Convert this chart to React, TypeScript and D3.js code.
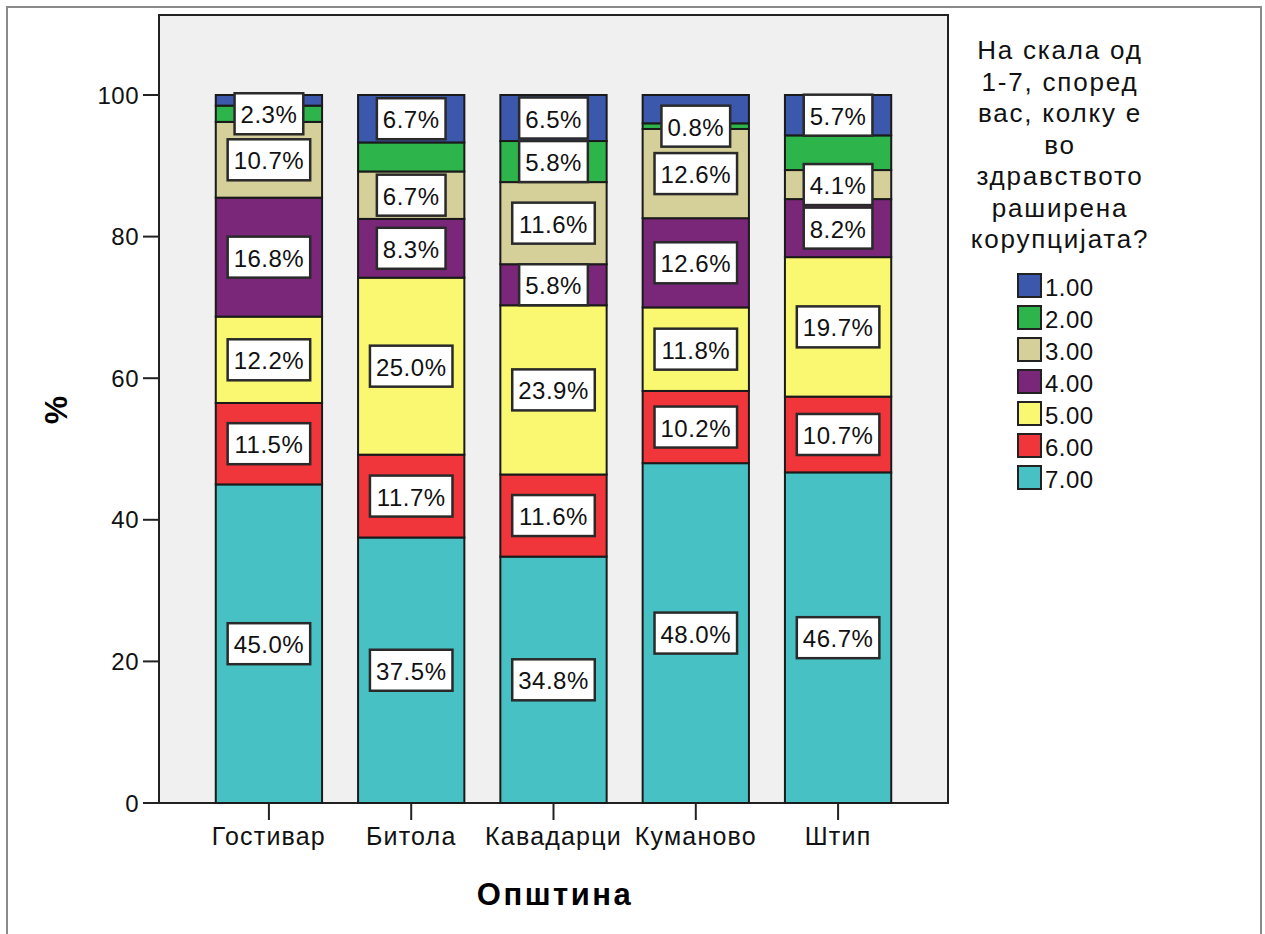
import React from "react";
import * as d3 from "d3";

const municipalities = ["Гостивар", "Битола", "Кавадарци", "Куманово", "Штип"];
const categories = ["1.00", "2.00", "3.00", "4.00", "5.00", "6.00", "7.00"];
const values1 = [1.5, 6.7, 6.5, 4.0, 5.7];
const values2 = [2.3, 4.1, 5.8, 0.8, 4.9];
const values3 = [10.7, 6.7, 11.6, 12.6, 4.1];
const values4 = [16.8, 8.3, 5.8, 12.6, 8.2];
const values5 = [12.2, 25.0, 23.9, 11.8, 19.7];
const values6 = [11.5, 11.7, 11.6, 10.2, 10.7];
const values7 = [45.0, 37.5, 34.8, 48.0, 46.7];
const seriesValues = [values1, values2, values3, values4, values5, values6, values7];
// whether the value label is drawn for each bar (SPSS hid some overlapping labels)
const shown1 = [false, true, true, false, true];
const shown2 = [true, false, true, true, false];
const shownAll = [true, true, true, true, true];
const labelShown = [shown1, shown2, shownAll, shownAll, shownAll, shownAll, shownAll];
const colors = ["#3C58AC", "#2DB44B", "#D5CF9A", "#7A2779", "#FAF870", "#F0353B", "#48C1C5"];
const yTicks = [0, 20, 40, 60, 80, 100];
const legendTitle = ["На скала од", "1-7, според", "вас, колку е", "во", "здравството", "раширена", "корупцијата?"];

const FONT = "'Liberation Sans', Arial, sans-serif";

function textWidth(s: string, size: number) {
  // approximate Arial widths
  let w = 0;
  for (const ch of s) {
    if (ch === "%") w += 0.889;
    else if (ch === ".") w += 0.278;
    else w += 0.556;
  }
  return w * size;
}

export default function App() {
  const W = 1265, H = 934;
  const left = 159, right = 948, top = 15, bottom = 803;
  const x = d3.scaleBand<string>().domain(municipalities).range([left, right]).paddingInner(0.253).paddingOuter(0.399);
  const y = d3.scaleLinear().domain([0, 111.3]).range([bottom, top]);

  const rows = municipalities.map((m, i) => {
    const r: any = { m };
    categories.forEach((c, k) => (r[c] = seriesValues[k][i]));
    return r;
  });
  const stackKeys = [...categories].reverse();
  const stacked = d3.stack<any>().keys(stackKeys)(rows);

  const labelFont = 24;
  return (
    <div style={{ position: "absolute", left: 0, top: 0 }}>
      <svg width={W} height={H} style={{ display: "block", background: "#fff" }} fontFamily={FONT}>
        <rect x={7} y={7} width={1254} height={1000} fill="#fff" stroke="#8a8a8a" strokeWidth={2} />
        <rect x={left} y={top} width={right - left} height={bottom - top} fill="#F0F0F0" stroke="#222" strokeWidth={2} />
        {stacked.map((s) => {
          const k = categories.indexOf(s.key);
          return (
            <g key={s.key}>
              {s.map((d, i) => (
                <rect key={i} x={x(municipalities[i])!} y={y(d[1])} width={x.bandwidth()} height={y(d[0]) - y(d[1])}
                  fill={colors[k]} stroke="#1a1a1a" strokeWidth={2} />
              ))}
            </g>
          );
        })}
        {stacked.map((s) => {
          const k = categories.indexOf(s.key);
          return (
            <g key={"l" + s.key}>
              {s.map((d, i) => {
                if (!labelShown[k][i]) return null;
                const txt = seriesValues[k][i].toFixed(1) + "%";
                const cx = x(municipalities[i])! + x.bandwidth() / 2;
                const cy = y((d[0] + d[1]) / 2);
                const tw = textWidth(txt, labelFont) + 0.5 * txt.length;
                const bw = tw + 12, bh = 41;
                return (
                  <g key={i}>
                    <rect x={cx - bw / 2} y={cy - bh / 2} width={bw} height={bh} fill="#fff" stroke="#2a2a2a" strokeWidth={2.5} />
                    <text x={cx} y={cy + 1} textAnchor="middle" dominantBaseline="central" fontSize={labelFont} letterSpacing={0.5} fill="#111">{txt}</text>
                  </g>
                );
              })}
            </g>
          );
        })}
        {yTicks.map((t) => (
          <g key={t}>
            <line x1={left - 16} x2={left} y1={y(t)} y2={y(t)} stroke="#222" strokeWidth={2} />
            <text x={left - 20} y={y(t)} textAnchor="end" dominantBaseline="central" fontSize={24} letterSpacing={0.5} fill="#111">{t}</text>
          </g>
        ))}
        {municipalities.map((m) => {
          const cx = x(m)! + x.bandwidth() / 2;
          return (
            <g key={m}>
              <line x1={cx} x2={cx} y1={bottom} y2={bottom + 17} stroke="#222" strokeWidth={2} />
              <text x={cx} y={845} textAnchor="middle" fontSize={25} letterSpacing={1.2} fill="#111">{m}</text>
            </g>
          );
        })}
        <text x={555} y={905} textAnchor="middle" fontSize={31} fontWeight="bold" letterSpacing={2.5} fill="#000">Општина</text>
        <text transform={`translate(67,410) rotate(-90)`} textAnchor="middle" fontSize={32} fontWeight="bold" fill="#000">%</text>
        {legendTitle.map((l, i) => (
          <text key={l} x={1060} y={59 + i * 31.5} textAnchor="middle" fontSize={26} letterSpacing={1.8} fill="#111">{l}</text>
        ))}
        {categories.map((c, i) => (
          <g key={c}>
            <rect x={1018} y={274 + i * 32} width={23} height={23} fill={colors[i]} stroke="#222" strokeWidth={2} />
            <text x={1045} y={287 + i * 32} dominantBaseline="central" fontSize={24} letterSpacing={0.5} fill="#111">{c}</text>
          </g>
        ))}
      </svg>
    </div>
  );
}
